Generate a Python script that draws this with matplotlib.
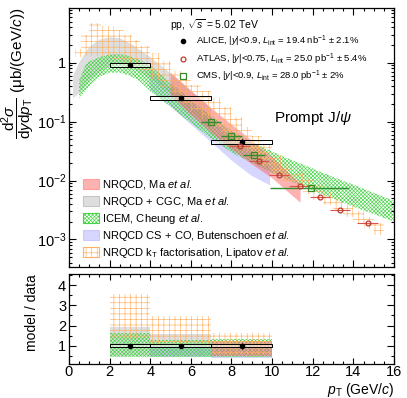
import numpy as np
import matplotlib
matplotlib.use("Agg")
import matplotlib.pyplot as plt
from matplotlib.patches import Patch, Rectangle
from matplotlib.lines import Line2D
from matplotlib.ticker import MultipleLocator, FixedLocator, FuncFormatter, LogLocator, NullFormatter

plt.rcParams["font.family"] = ["Liberation Sans", "DejaVu Sans"]
plt.rcParams["mathtext.fontset"] = "custom"
plt.rcParams["mathtext.rm"] = "Liberation Sans"
plt.rcParams["mathtext.it"] = "Liberation Sans:italic"
plt.rcParams["mathtext.bf"] = "Liberation Sans:bold"
plt.rcParams["hatch.linewidth"] = 0.45

# ALICE data (|y|<0.9)
alice_pt = [3.0, 5.5, 8.5]
alice_lo = [2.0, 4.0, 7.0]
alice_hi = [4.0, 7.0, 10.0]
alice_val = [0.92, 0.25, 0.045]
alice_stat = [0.03, 0.06, 0.12]   # relative
alice_syst = [0.07, 0.07, 0.07]   # relative

# ATLAS data (|y|<0.75)
atlas_pt = [8.4, 9.35, 10.35, 11.35, 12.35, 13.35, 14.7]
atlas_val = [0.039, 0.0218, 0.0125, 0.008, 0.0052, 0.0032, 0.0019]
atlas_xerr = [0.5, 0.5, 0.5, 0.5, 0.5, 0.5, 0.5]

# CMS data (|y|<0.9)
cms_pt = [7.0, 8.0, 9.1, 11.9]
cms_val = [0.1, 0.056, 0.027, 0.0075]
cms_xlo = [0.5, 0.5, 0.55, 2.0]
cms_xhi = [0.5, 0.5, 0.55, 1.9]

# NRQCD, Ma et al.
ma_pt = [5, 6, 7, 8, 9, 10, 11.4]
ma_lo = [0.28, 0.13, 0.065, 0.034, 0.019, 0.011, 0.0042]
ma_hi = [0.68, 0.34, 0.17, 0.09, 0.048, 0.025, 0.0088]

# NRQCD + CGC, Ma et al.
cgc_pt = [0.2, 0.5, 1.0, 1.5, 2.0, 2.5, 3.0, 4.0, 5.0, 6.0, 7.0]
cgc_lo = [0.25, 0.3, 0.5, 0.7, 0.85, 0.9, 0.85, 0.55, 0.3, 0.15, 0.075]
cgc_hi = [0.6, 1.0, 1.85, 2.45, 2.7, 2.6, 2.15, 1.25, 0.66, 0.33, 0.17]

# ICEM, Cheung et al.
icem_pt = [0.5, 0.8, 1.0, 1.5, 2.0, 2.5, 3.0, 3.5, 4.0, 5, 6, 7, 8, 9, 10, 11, 12, 13, 14, 15, 16]
icem_lo = [0.25, 0.33, 0.4, 0.58, 0.68, 0.68, 0.6, 0.48, 0.33, 0.18, 0.095, 0.052, 0.03,
           0.02, 0.0135, 0.0095, 0.0068, 0.0049, 0.0036, 0.0027, 0.002]
icem_hi = [0.5, 0.9, 1.05, 1.25, 1.38, 1.4, 1.3, 1.1, 0.9, 0.46, 0.23, 0.125, 0.07,
           0.045, 0.031, 0.022, 0.016, 0.0115, 0.0085, 0.0062, 0.0045]

# NRQCD CS + CO, Butenschoen et al.
but_pt = [4, 5, 6, 7, 8, 9, 9.9]
but_lo = [0.34, 0.18, 0.09, 0.045, 0.022, 0.012, 0.0083]
but_hi = [0.75, 0.38, 0.2, 0.105, 0.056, 0.032, 0.02]

# NRQCD kT factorisation, Lipatov et al. (histogram, bin edges)
kt_edges = [0.3, 0.6, 1.0, 1.6, 2.2, 2.7, 3.1, 3.5, 4.0, 4.5, 5.0, 5.5, 6.0, 6.5, 7.0, 7.5,
            8.0, 8.5, 9.0, 9.5, 10.0, 10.5, 11.0, 11.5, 12.0, 12.5, 13.0, 13.5, 14.0, 14.5, 15.0, 15.5]
kt_lo = [1.25, 1.3, 1.3, 1.3, 1.15, 1.0, 0.85, 0.65, 0.5, 0.38, 0.29, 0.21, 0.15, 0.11, 0.08,
         0.057, 0.04, 0.03, 0.022, 0.017, 0.013, 0.01, 0.0075, 0.006, 0.0047, 0.0038,
         0.003, 0.0024, 0.0019, 0.0015, 0.0012]
kt_hi = [1.7, 3.0, 4.8, 4.2, 3.6, 2.9, 2.4, 1.9, 1.45, 1.05, 0.72, 0.55, 0.42, 0.33, 0.25,
         0.18, 0.12, 0.08, 0.056, 0.04, 0.027, 0.019, 0.0135, 0.0105, 0.0083, 0.0065,
         0.005, 0.0039, 0.003, 0.0024, 0.0019]

# model / data ratios in ALICE bins
ratio_edges = [2.0, 4.0, 7.0, 10.0]
r_kt_lo = [1.35, 1.0, 0.55]
r_kt_hi = [3.55, 2.45, 1.62]
r_cgc_lo = [0.5, 0.5]
r_cgc_hi = [1.95, 1.6]
r_icem_lo = [0.45, 0.45, 0.47]
r_icem_hi = [1.65, 1.3, 1.35]
r_but_lo = [0.45, 0.42]
r_but_hi = [1.0, 1.0]
r_ma_lo = [0.5]
r_ma_hi = [1.25]
r_data_stat = [0.05, 0.06, 0.15]
r_data_syst = [0.07, 0.07, 0.07]

c_red = "#ff6666"
c_gray = "#c8c8c8"
c_green = "#44d444"
c_blue = "#9999ff"
c_orange = "#ffb060"
hatch_green = "xxxxxxxxx"
hatch_orange = "+++"


def band(ax, x, lo, hi, kind, step=None):
    if kind == "red":
        ax.fill_between(x, lo, hi, facecolor=c_red, alpha=0.5, lw=0, step=step)
    elif kind == "gray":
        ax.fill_between(x, lo, hi, facecolor=c_gray, alpha=0.6, lw=0, step=step)
    elif kind == "blue":
        ax.fill_between(x, lo, hi, facecolor=c_blue, alpha=0.4, lw=0, step=step)
    elif kind == "green":
        ax.fill_between(x, lo, hi, facecolor="none", edgecolor=c_green, hatch=hatch_green,
                        lw=0, step=step)
    elif kind == "orange":
        ax.fill_between(x, lo, hi, facecolor="none", edgecolor=c_orange, hatch=hatch_orange,
                        lw=0, step=step)


def step_vals(v):
    return list(v) + [v[-1]]


fig = plt.figure(figsize=(4.07, 3.98), dpi=100)
ax = fig.add_axes([0.1695, 0.329, 0.7985, 0.651])
axr = fig.add_axes([0.1695, 0.0854, 0.7985, 0.2262])

# ---- top panel ----
band(ax, cgc_pt, cgc_lo, cgc_hi, "gray")
band(ax, but_pt, but_lo, but_hi, "blue")
band(ax, icem_pt, icem_lo, icem_hi, "green")
band(ax, ma_pt, ma_lo, ma_hi, "red")
band(ax, kt_edges, step_vals(kt_lo), step_vals(kt_hi), "orange", step="post")

for p, l, h, v, s in zip(alice_pt, alice_lo, alice_hi, alice_val, alice_syst):
    ax.add_patch(Rectangle((l, v * (1 - s)), h - l, 2 * v * s, facecolor="white",
                           alpha=0.5, edgecolor="none", zorder=4))
    ax.add_patch(Rectangle((l, v * (1 - s)), h - l, 2 * v * s, facecolor="none",
                           edgecolor="black", lw=0.7, zorder=5))
ax.errorbar(alice_pt, alice_val, yerr=np.array(alice_val) * np.array(alice_stat), fmt="o",
            color="black", ms=3, lw=0.8, capsize=0, zorder=6)

ax.errorbar(atlas_pt, atlas_val, xerr=atlas_xerr, fmt="o", mfc="none", mec="#c0392b",
            color="#d9534f", ms=3.5, mew=0.9, lw=0.8, capsize=0, zorder=6)
ax.errorbar(cms_pt, cms_val, xerr=[cms_xlo, cms_xhi], fmt="s", mfc="none", mec="#3a8a2a",
            color="#2f8f2f", ms=4.5, mew=0.9, lw=1.0, capsize=0, zorder=6)

ax.set_yscale("log")
ax.set_xlim(0, 16)
ax.set_ylim(3.4e-4, 8.5)
ax.xaxis.set_major_locator(MultipleLocator(2))
ax.xaxis.set_minor_locator(MultipleLocator(0.5))
ax.set_xticklabels([])
ax.yaxis.set_major_locator(FixedLocator([1e-3, 1e-2, 1e-1, 1]))
ax.yaxis.set_minor_locator(LogLocator(subs=np.arange(2, 10), numticks=20))
ax.yaxis.set_minor_formatter(NullFormatter())
ax.yaxis.set_major_formatter(FuncFormatter(
    lambda v, pos: "1" if abs(v - 1) < 1e-9 else r"$10^{%d}$" % round(np.log10(v))))
ax.set_ylabel(r"$\dfrac{\mathrm{d}^{2}\sigma}{\mathrm{d}y\mathrm{d}p_{\mathrm{T}}}$ ($\mathrm{\mu}$b/(GeV/$c$))",
              fontsize=11, loc="top", labelpad=0)

ax.text(0.311, 0.934, r"pp, $\sqrt{s}$ = 5.02 TeV", transform=ax.transAxes, fontsize=7.5,
        va="center")
ax.text(0.631, 0.575, r"Prompt J/$\psi$", transform=ax.transAxes, fontsize=11, va="center")

data_handles = [
    Line2D([], [], marker="o", ls="none", color="black", ms=3),
    Line2D([], [], marker="o", ls="none", mfc="none", mec="#c0392b", ms=3.5, mew=0.9),
    Line2D([], [], marker="s", ls="none", mfc="none", mec="#3a8a2a", ms=4.5, mew=0.9),
]
data_labels = [
    r"ALICE, |$y$|<0.9, $L_{\mathrm{int}}$ = 19.4 nb$^{-1}$ $\pm$ 2.1%",
    r"ATLAS, |$y$|<0.75, $L_{\mathrm{int}}$ = 25.0 pb$^{-1}$ $\pm$ 5.4%",
    r"CMS, |$y$|<0.9, $L_{\mathrm{int}}$ = 28.0 pb$^{-1}$ $\pm$ 2%",
]
leg1 = ax.legend(data_handles, data_labels, loc="upper left", bbox_to_anchor=(0.335, 0.9),
                 frameon=False, fontsize=6.8, handlelength=1.0, handletextpad=0.9,
                 labelspacing=0.25, borderpad=0, borderaxespad=0)
ax.add_artist(leg1)

model_handles = [
    Patch(facecolor=c_red, alpha=0.5, edgecolor=c_red, lw=0.8),
    Patch(facecolor=c_gray, alpha=0.6, edgecolor="#aaaaaa", lw=0.8),
    Patch(facecolor="none", edgecolor=c_green, hatch=hatch_green, lw=0.8),
    Patch(facecolor=c_blue, alpha=0.4, edgecolor=c_blue, lw=0.8),
    Patch(facecolor="none", edgecolor=c_orange, hatch=hatch_orange, lw=0.8),
]
model_labels = [
    r"NRQCD, Ma $et$ $al.$",
    r"NRQCD + CGC, Ma $et$ $al.$",
    r"ICEM, Cheung $et$ $al.$",
    r"NRQCD CS + CO, Butenschoen $et$ $al.$",
    r"NRQCD k$_{\mathrm{T}}$ factorisation, Lipatov $et$ $al.$",
]
ax.legend(model_handles, model_labels, loc="upper left", bbox_to_anchor=(0.043, 0.345),
          frameon=False, fontsize=8, handlelength=1.45, handleheight=1.0,
          handletextpad=0.3, labelspacing=0.28, borderpad=0, borderaxespad=0)

# ---- ratio panel ----
band(axr, ratio_edges[:3], step_vals(r_cgc_lo), step_vals(r_cgc_hi), "gray", step="post")
band(axr, ratio_edges[1:], step_vals(r_but_lo), step_vals(r_but_hi), "blue", step="post")
band(axr, ratio_edges, step_vals(r_icem_lo), step_vals(r_icem_hi), "green", step="post")
band(axr, ratio_edges[2:], step_vals(r_ma_lo), step_vals(r_ma_hi), "red", step="post")
band(axr, ratio_edges, step_vals(r_kt_lo), step_vals(r_kt_hi), "orange", step="post")

for p, l, h, s in zip(alice_pt, alice_lo, alice_hi, r_data_syst):
    axr.add_patch(Rectangle((l, 1 - s), h - l, 2 * s, facecolor="white", alpha=0.5,
                            edgecolor="none", zorder=4))
    axr.add_patch(Rectangle((l, 1 - s), h - l, 2 * s, facecolor="none", edgecolor="black",
                            lw=0.7, zorder=5))
axr.errorbar(alice_pt, np.ones(len(alice_pt)), yerr=r_data_stat, fmt="o", color="black",
             ms=3, lw=0.8, capsize=0, zorder=6)

axr.set_xlim(0, 16)
axr.set_ylim(0.1, 4.55)
axr.xaxis.set_major_locator(MultipleLocator(2))
axr.xaxis.set_minor_locator(MultipleLocator(0.5))
axr.yaxis.set_major_locator(MultipleLocator(1))
axr.yaxis.set_minor_locator(MultipleLocator(0.5))
axr.set_ylabel("model / data", fontsize=10, loc="top", labelpad=14)
axr.set_xlabel(r"$p_{\mathrm{T}}$ (GeV/$c$)", fontsize=10, loc="right", labelpad=1)

for a in (ax, axr):
    a.tick_params(which="both", direction="in", top=True, right=True, labelsize=10.5, pad=2)
    a.tick_params(which="major", length=5, width=0.8)
    a.tick_params(which="minor", length=2.5, width=0.8)
    for sp in a.spines.values():
        sp.set_linewidth(0.9)
axr.tick_params(axis="x", which="major", length=4, pad=1)
axr.tick_params(axis="x", which="minor", length=2)

fig.savefig("out.png", dpi=100)
